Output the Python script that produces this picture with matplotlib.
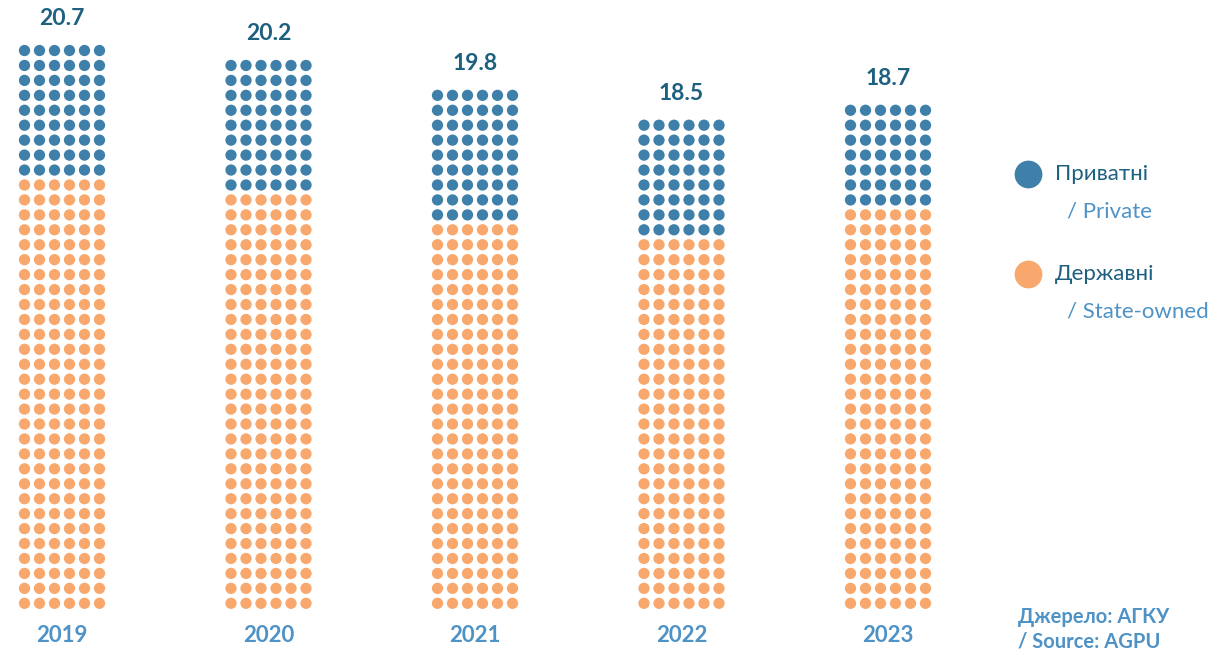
import numpy as np
import matplotlib
matplotlib.use("Agg")
import matplotlib.pyplot as plt

################################################################################

years = ['2019', '2020', '2021', '2022', '2023']
totals = [20.7, 20.2, 19.8, 18.5, 18.7]
private_dots = [54, 54, 54, 48, 42]       # dots per column (6 per row)
state_dots = [174, 168, 156, 150, 162]

PER_ROW = 6
BLUE = '#3e80aa'
ORANGE = '#f8a86d'
DARK = '#1d6080'
LIGHT = '#4e92c6'

plt.rcParams['font.family'] = ['Lato', 'DejaVu Sans']

################################################################################

fig = plt.figure(figsize=(12.11, 6.5), dpi=100)
ax = fig.add_axes([0, 0, 1, 1])
ax.set_xlim(0, 1211)
ax.set_ylim(650, 0)
ax.axis('off')

x0, col_step = 62, 206.5
dx, dy = 15.0, 14.94
base = 603.3
dot_size = 66

for i, yr in enumerate(years):
    cx = x0 + i*col_step
    colors = [ORANGE]*state_dots[i] + [BLUE]*private_dots[i]
    n = len(colors)
    idx = np.arange(n)
    xs = cx + (idx % PER_ROW - (PER_ROW - 1)/2.)*dx
    ys = base - (idx // PER_ROW)*dy
    ax.scatter(xs, ys, s=dot_size, c=colors, linewidths=0)
    top = ys.min()
    ax.text(cx, top - 32, f'{totals[i]:.1f}', ha='center', va='center',
            fontsize=16.5, fontweight='bold', color=DARK)
    ax.text(cx, 636, yr, ha='center', va='center', fontsize=16,
            fontweight='bold', color=LIGHT)

# legend
for y, col, ua, en in [(174, BLUE, 'Приватні', '/ Private'),
                       (274, ORANGE, 'Державні', '/ State-owned')]:
    ax.scatter([1028], [y], s=400, c=col, linewidths=0)
    ax.text(1055, y, ua, ha='left', va='center', fontsize=16, color=DARK)
    ax.text(1067, y + 37, en, ha='left', va='center', fontsize=16, color=LIGHT)

ax.text(1018, 617, 'Джерело: АГКУ', ha='left', va='center', fontsize=14.5,
        fontweight='bold', color=LIGHT)
ax.text(1018, 642, '/ Source: AGPU', ha='left', va='center', fontsize=14.5,
        fontweight='bold', color=LIGHT)

plt.savefig('out.png', dpi=100)
